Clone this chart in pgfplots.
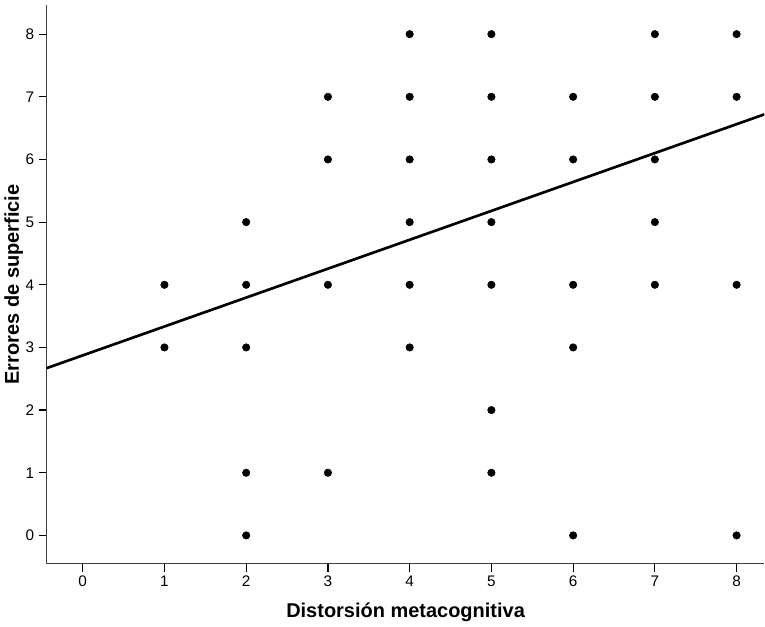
\documentclass[border=0pt]{standalone}
\usepackage{pgfplots}
\pgfplotsset{compat=1.18}
\usepackage{fontspec}
\setmainfont{Liberation Sans}
\begin{document}
\begin{tikzpicture}
\begin{axis}[
    scale only axis,
    width=539pt,
    height=419.3pt,
    xmin=-0.44, xmax=8.34,
    ymin=-0.45, ymax=8.46,
    axis x line*=bottom,
    axis y line*=left,
    axis line style={black!75, line width=0.9pt},
    xtick={0,...,8},
    ytick={0,...,8},
    tick align=outside,
    major tick length=6pt,
    tick style={black, line width=0.9pt},
    tick label style={font=\fontsize{11.5}{13}\selectfont},
    /pgf/number format/assume math mode=true,
    xlabel={\bfseries Distorsión metacognitiva},
    ylabel={\bfseries Errores de superficie},
    label style={font=\fontsize{15}{17}\selectfont},
    xlabel style={yshift=-5pt},
    ylabel style={yshift=-5pt},
    clip=true,
]
\addplot[only marks, mark=*, mark size=2.8pt, black] coordinates {
(1,4)(1,3)
(2,5)(2,4)(2,3)(2,1)(2,0)
(3,7)(3,6)(3,4)(3,1)
(4,8)(4,7)(4,6)(4,5)(4,4)(4,3)
(5,8)(5,7)(5,6)(5,5)(5,4)(5,2)(5,1)
(6,7)(6,6)(6,4)(6,3)(6,0)
(7,8)(7,7)(7,6)(7,5)(7,4)
(8,8)(8,7)(8,4)(8,0)
};
\addplot[black, line width=2pt] coordinates {(-0.44,2.67)(8.34,6.72)};
\end{axis}
\path ([yshift=4pt]current axis.north);
\end{tikzpicture}
\end{document}
